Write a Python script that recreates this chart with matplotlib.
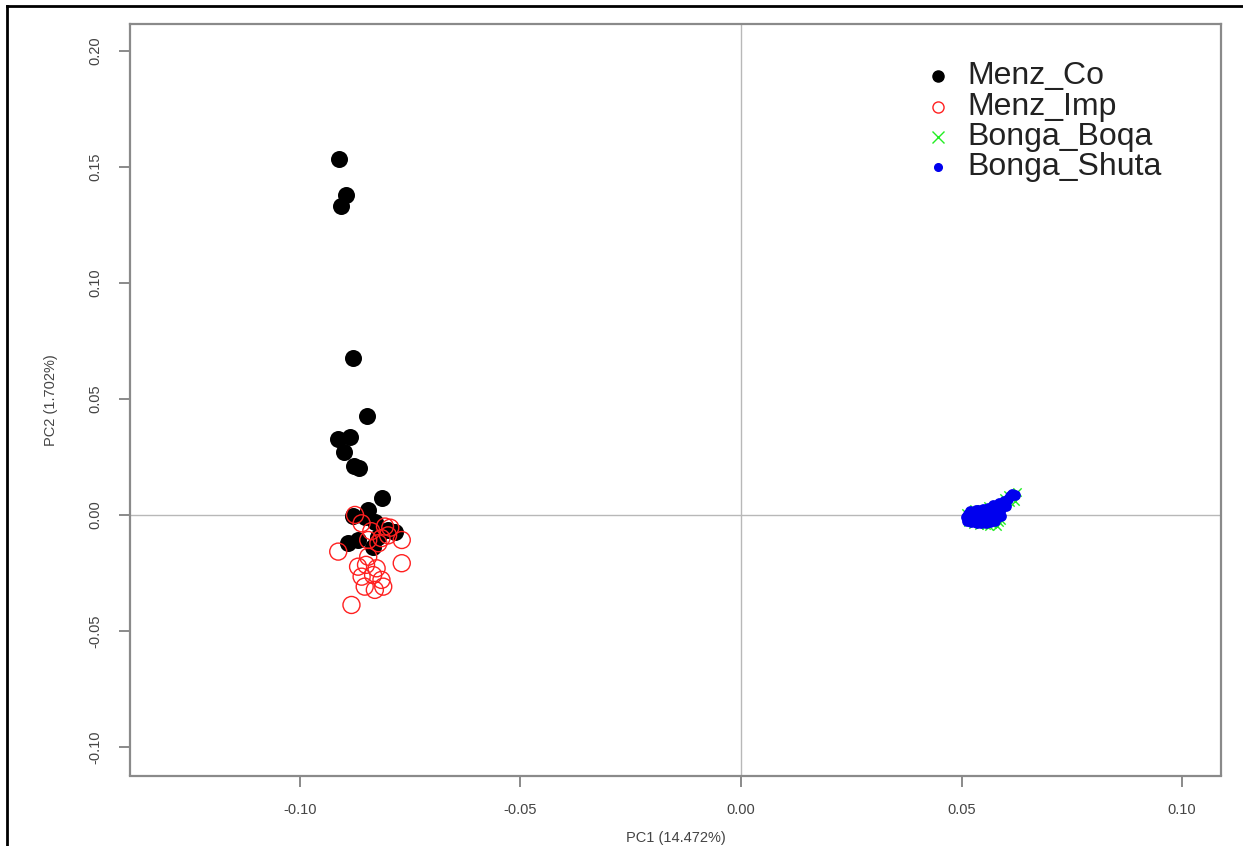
import matplotlib
matplotlib.use("Agg")
import matplotlib.pyplot as plt
from matplotlib.lines import Line2D

plt.rcParams['font.family'] = ['Liberation Sans', 'DejaVu Sans']

# ---- data ----
menz_co_x = [-0.0912, -0.0896, -0.0907, -0.0880, -0.0848, -0.0914, -0.0887, -0.0900,
             -0.0878, -0.0867, -0.0814, -0.0845, -0.0853, -0.0830, -0.0785, -0.0890,
             -0.0868, -0.0834, -0.0823, -0.0800, -0.0880]
menz_co_y = [0.1534, 0.1379, 0.1332, 0.0677, 0.0427, 0.0328, 0.0336, 0.0272,
             0.0211, 0.0203, 0.0075, 0.0022, -0.0007, -0.0029, -0.0072, -0.0120,
             -0.0108, -0.0137, -0.0093, -0.0065, -0.0005]

menz_imp_x = [-0.0875, -0.0860, -0.0807, -0.0795, -0.0769, -0.0913, -0.0845, -0.0822,
              -0.0800, -0.0868, -0.0850, -0.0826, -0.0769, -0.0860, -0.0834, -0.0815,
              -0.0853, -0.0830, -0.0811, -0.0883, -0.0838, -0.0815, -0.0845]
menz_imp_y = [0.0000, -0.0036, -0.0050, -0.0055, -0.0108, -0.0158, -0.0108, -0.0122,
              -0.0088, -0.0223, -0.0215, -0.0230, -0.0208, -0.0266, -0.0259, -0.0280,
              -0.0309, -0.0323, -0.0309, -0.0388, -0.0070, -0.0100, -0.0180]

boqa_x = [0.0510, 0.0515, 0.0525, 0.0540, 0.0555, 0.0570, 0.0580, 0.0590, 0.0560,
          0.0595, 0.0605, 0.0625, 0.0620, 0.0545, 0.0530, 0.0575, 0.0600, 0.0585,
          0.0512, 0.0550, 0.0565, 0.0610, 0.0528, 0.0562, 0.0588]
boqa_y = [0.0010, -0.0030, -0.0040, -0.0045, -0.0042, -0.0040, -0.0048, -0.0020, 0.0040,
          0.0075, 0.0085, 0.0098, 0.0060, 0.0020, 0.0005, 0.0025, 0.0045, -0.0030,
          -0.0015, -0.0010, 0.0015, 0.0055, 0.0025, -0.0048, 0.0008]

shuta_x = [0.0510, 0.0515, 0.0520, 0.0525, 0.0530, 0.0535, 0.0540, 0.0540, 0.0545,
           0.0550, 0.0550, 0.0555, 0.0558, 0.0560, 0.0565, 0.0568, 0.0570, 0.0572,
           0.0575, 0.0578, 0.0580, 0.0585, 0.0590, 0.0595, 0.0600, 0.0605, 0.0610,
           0.0615, 0.0620, 0.0563, 0.0548, 0.0530, 0.0585, 0.0512, 0.0522, 0.0535,
           0.0545, 0.0555, 0.0565, 0.0575, 0.0590, 0.0548, 0.0538, 0.0560, 0.0572,
           0.0582, 0.0520, 0.0532]
shuta_y = [-0.0010, 0.0005, -0.0020, 0.0010, -0.0015, 0.0000, -0.0025, 0.0012, -0.0008,
           0.0005, -0.0030, -0.0015, 0.0020, 0.0002, -0.0022, 0.0030, 0.0008, 0.0045,
           -0.0010, 0.0038, 0.0015, 0.0050, 0.0025, 0.0060, 0.0040, 0.0070, 0.0080,
           0.0090, 0.0085, 0.0010, -0.0002, -0.0030, 0.0000, -0.0028, -0.0032, -0.0035,
           -0.0036, -0.0034, -0.0030, -0.0028, -0.0005, 0.0025, 0.0022, 0.0032, 0.0028,
           0.0040, 0.0018, 0.0020]

group_labels = ["Menz_Co", "Menz_Imp", "Bonga_Boqa", "Bonga_Shuta"]
x_ticks = [-0.10, -0.05, 0.00, 0.05, 0.10]
y_ticks = [-0.10, -0.05, 0.00, 0.05, 0.10, 0.15, 0.20]
x_label = "PC1 (14.472%)"
y_label = "PC2 (1.702%)"

# ---- figure ----
W, H = 1243, 846
fig = plt.figure(figsize=(W / 100, H / 100), dpi=100)
ax = fig.add_axes([130 / W, 1 - 775.5 / H, (1221 - 130) / W, (775.5 - 24) / H])

ax.axhline(0, color='#b8b8b8', lw=1.0, zorder=0)
ax.axvline(0, color='#b8b8b8', lw=1.0, zorder=0)

ax.scatter(menz_co_x, menz_co_y, s=150, c='black', marker='o', linewidths=0, zorder=3)
ax.scatter(menz_imp_x, menz_imp_y, s=150, facecolors='none', edgecolors='#ff2020',
           marker='o', linewidths=1.0, zorder=4)
ax.scatter(boqa_x, boqa_y, s=36, c='#22ee22', marker='x', linewidths=1.0, zorder=5)
ax.scatter(shuta_x, shuta_y, s=60, c='#0000ee', marker='o', linewidths=0, zorder=6)

ax.set_xlim(-0.1385, 0.1088)
ax.set_ylim(-0.1123, 0.2116)

ax.set_xticks(x_ticks)
ax.set_xticklabels([f"{v:.2f}" for v in x_ticks])
ax.set_yticks(y_ticks)
ax.set_yticklabels([f"{v:.2f}" for v in y_ticks], rotation=90, va='center')

for sp in ax.spines.values():
    sp.set_color('#8a8a8a')
    sp.set_linewidth(1.6)
ax.tick_params(axis='both', colors='#8a8a8a', length=8, width=1.4,
               labelsize=10.5, labelcolor='#444444')
ax.tick_params(axis='x', pad=12)
ax.tick_params(axis='y', pad=12)

ax.set_xlabel(x_label, fontsize=10.5, color='#444444')
ax.xaxis.set_label_coords(0.5, -0.074)
ax.set_ylabel(y_label, fontsize=10.5, color='#444444', labelpad=22)

# legend, drawn as marker + text rows in axes coordinates
leg_mx, leg_tx = 0.7406, 0.7672
leg_rows = [0.9308, 0.8895, 0.8496, 0.8097]
styles = [
    dict(marker='o', color='black', markersize=8),
    dict(marker='o', markerfacecolor='none', markeredgecolor='#ff2020', markersize=8,
         markeredgewidth=1.0),
    dict(marker='x', color='#22ee22', markersize=8, markeredgewidth=1.0),
    dict(marker='o', color='#0000ee', markersize=5.5),
]
for lab, yy, st in zip(group_labels, leg_rows, styles):
    ax.plot([leg_mx], [yy], ls='none', transform=ax.transAxes, clip_on=False, **st)
    ax.text(leg_tx, yy, lab, transform=ax.transAxes, fontsize=23, color='#222222',
            va='center', ha='left')

# outer black frame of the picture
fig.add_artist(Line2D([7 / W, 7 / W], [0, 1 - 6 / H], transform=fig.transFigure,
                      color='black', lw=2))
fig.add_artist(Line2D([7 / W, 1], [1 - 6 / H, 1 - 6 / H], transform=fig.transFigure,
                      color='black', lw=2))

fig.savefig("out.png", dpi=100)
